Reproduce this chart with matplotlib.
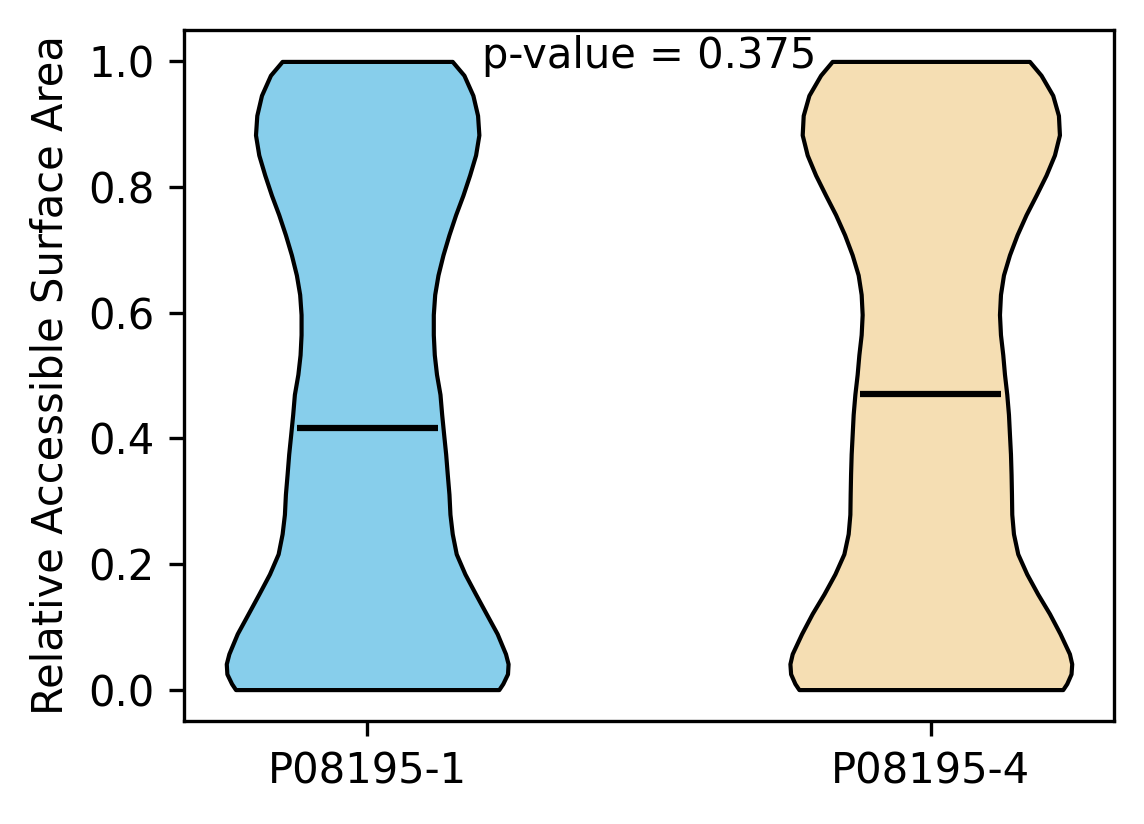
import numpy as np
import matplotlib
matplotlib.use('Agg')
import matplotlib.pyplot as plt

# groups and summary stats
labels = ['P08195-1', 'P08195-4']
means = [0.417, 0.471]
colors = ['skyblue', 'wheat']
p_value = 0.375

# density profile (relative widths along y)
y_grid = [0.0, 0.0095, 0.025, 0.041, 0.057, 0.089, 0.121, 0.152, 0.184, 0.216,
          0.248, 0.279, 0.311, 0.343, 0.375, 0.406, 0.438, 0.470, 0.502, 0.533,
          0.565, 0.597, 0.629, 0.660, 0.692, 0.724, 0.756, 0.787, 0.819, 0.851,
          0.883, 0.914, 0.946, 0.978, 1.0]
dens1 = [132, 136, 140.7, 141.3, 138.7, 130.3, 119.3, 108.7, 98, 89.3,
         85.3, 83, 82, 80.3, 78.7, 76.7, 74.7, 73, 69.5, 67.3,
         66.3, 66.3, 67.7, 71, 76, 82, 88.7, 96, 102.7, 108.7,
         112, 110.7, 106, 97, 85.3]
dens2 = [132, 136, 140.3, 141, 138.7, 129.3, 118.7, 107, 96, 87,
         82.7, 81, 80.7, 80.3, 79.7, 78.7, 77.7, 76, 73.7, 72,
         69.7, 68.7, 69.7, 72.7, 78.7, 86.3, 95.3, 105.3, 115.3, 123.7,
         128.7, 127.7, 122, 110.3, 98.7]

stats = []
for dd, m in zip([dens1, dens2], means):
    stats.append({'coords': np.array(y_grid), 'vals': np.array(dd, dtype=float),
                  'mean': m, 'median': m, 'min': min(y_grid), 'max': max(y_grid)})

fig = plt.figure(figsize=(1144 / 300, 824 / 300), dpi=300)
ax = fig.add_subplot(111)
fig.subplots_adjust(left=184 / 1144, right=1114 / 1144, top=1 - 30 / 824, bottom=1 - 721 / 824)

parts = ax.violin(stats, positions=[1, 2], widths=0.5, showmeans=True, showextrema=False)
for body, c in zip(parts['bodies'], colors):
    body.set_facecolor(c)
    body.set_edgecolor('black')
    body.set_alpha(1)
    body.set_linewidth(1)
parts['cmeans'].set_color('black')
parts['cmeans'].set_linewidth(1.5)

ax.set_xticks([1, 2])
ax.set_xticklabels(labels)
ax.set_ylabel('Relative Accessible Surface Area')
ax.text(1.5, 0.989, 'p-value = %.3f' % p_value, ha='center', va='baseline', fontsize=10)

fig.savefig('out.png', dpi=300)
